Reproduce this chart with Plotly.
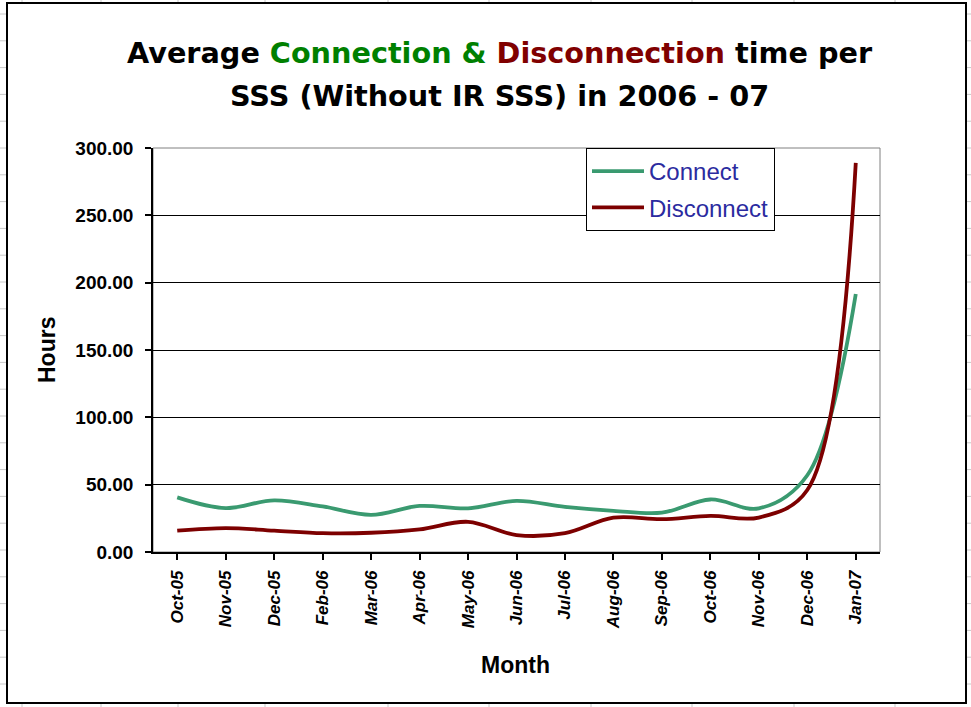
import plotly.graph_objects as go

months = ["Oct-05", "Nov-05", "Dec-05", "Feb-06", "Mar-06", "Apr-06", "May-06",
          "Jun-06", "Jul-06", "Aug-06", "Sep-06", "Oct-06", "Nov-06", "Dec-06", "Jan-07"]
connect = [40.6, 32.6, 38.4, 33.8, 27.6, 34.2, 32.4, 38.0, 33.5, 30.6, 29.2, 39.0, 32.4, 57.0, 191.6]
disconnect = [15.8, 17.8, 15.9, 14.0, 14.3, 16.8, 22.4, 12.6, 14.0, 25.5, 24.4, 26.8, 25.6, 46.0, 289.0]
y_ticks = [0, 50, 100, 150, 200, 250, 300]

W, H = 971, 707
L, R, T, B = 153, 880, 148, 552

def px(x):
    return (x - L) / (R - L)

def py(y):
    return (B - y) / (B - T)

GREEN = "#3a9a70"
RED = "#7d0000"
LEG = "#2b2ba0"

fig = go.Figure()
fig.add_trace(go.Scatter(x=months, y=connect, name="Connect", mode="lines",
                         line=dict(color=GREEN, width=3.8, shape="spline", smoothing=1.0),
                         legendgroup="a"))
fig.add_trace(go.Scatter(x=months, y=disconnect, name="Disconnect", mode="lines",
                         line=dict(color=RED, width=3.8, shape="spline", smoothing=1.0),
                         legendgroup="b"))

shapes = []
# spreadsheet grid peeking outside the chart border
grey = "#c8c8c8"
yy = 14.0
while yy < H:
    shapes.append(dict(type="line", xref="paper", yref="paper", x0=px(0), x1=px(7), y0=py(yy), y1=py(yy),
                       line=dict(color=grey, width=1), layer="below"))
    shapes.append(dict(type="line", xref="paper", yref="paper", x0=px(966), x1=px(971), y0=py(yy), y1=py(yy),
                       line=dict(color=grey, width=1), layer="below"))
    yy += 26.8
for xx in [22, 101, 178, 265, 388, 489, 591, 692, 794, 895]:
    shapes.append(dict(type="line", xref="paper", yref="paper", x0=px(xx), x1=px(xx), y0=py(0), y1=py(3),
                       line=dict(color=grey, width=1), layer="below"))
    shapes.append(dict(type="line", xref="paper", yref="paper", x0=px(xx), x1=px(xx), y0=py(703), y1=py(707),
                       line=dict(color=grey, width=1), layer="below"))
# chart border
shapes.append(dict(type="rect", xref="paper", yref="paper", x0=px(7), x1=px(966), y0=py(703), y1=py(3),
                   line=dict(color="#000000", width=2), fillcolor="rgba(0,0,0,0)", layer="below"))
# plot area border
shapes.append(dict(type="rect", xref="paper", yref="paper", x0=0, x1=1, y0=0, y1=1,
                   line=dict(color="#808080", width=1), fillcolor="rgba(0,0,0,0)", layer="below"))

title_font = "DejaVu Sans, Arial, sans-serif"
annotations = [
    dict(text=("Average <span style='color:#008000'>Connection &amp;</span> "
               "<span style='color:#800000'>Disconnection</span> time per"),
         xref="paper", yref="paper", x=px(500), y=py(53), xanchor="center", yanchor="middle",
         showarrow=False, font=dict(family=title_font, size=28.7, color="#000000", weight="bold")),
    dict(text="SSS (Without IR SSS) in 2006 - 07",
         xref="paper", yref="paper", x=px(499), y=py(96), xanchor="center", yanchor="middle",
         showarrow=False, font=dict(family=title_font, size=28.7, color="#000000", weight="bold")),
    dict(text="Hours", textangle=-90, xref="paper", yref="paper", x=px(47), y=py(350),
         xanchor="center", yanchor="middle", showarrow=False,
         font=dict(family="Liberation Sans, Arial, sans-serif", size=23, color="#000000", weight="bold")),
    dict(text="Month", xref="paper", yref="paper", x=px(515), y=py(665),
         xanchor="center", yanchor="middle", showarrow=False,
         font=dict(family="Liberation Sans, Arial, sans-serif", size=23, color="#000000", weight="bold")),
]

fig.update_layout(
    width=W, height=H,
    margin=dict(l=L, r=W - R, t=T, b=H - B, autoexpand=False),
    paper_bgcolor="#ffffff", plot_bgcolor="#ffffff",
    showlegend=True,
    legend=dict(x=px(586), y=1, xanchor="left", yanchor="top",
                bgcolor="#ffffff", bordercolor="#000000", borderwidth=1,
                font=dict(family="Liberation Sans, Arial, sans-serif", size=24, color=LEG),
                traceorder="grouped", tracegroupgap=2, itemwidth=52),
    shapes=shapes,
    annotations=annotations,
    xaxis=dict(type="category", categoryorder="array", categoryarray=months,
               range=[-0.5, len(months) - 0.5],
               showgrid=False, showline=True, linecolor="#000000", linewidth=1.5,
               ticks="outside", ticklen=6, tickcolor="#000000", tickwidth=1.5,
               tickmode="array", tickvals=months, ticktext=["<i>%s</i>" % m for m in months],
               tickangle=-90, ticklabelstandoff=4,
               tickfont=dict(family="Liberation Sans, Arial, sans-serif", size=17, color="#000000", weight="bold"),
               zeroline=False, fixedrange=True),
    yaxis=dict(range=[0, 300], tickvals=y_ticks, ticktext=["%.2f" % v for v in y_ticks],
               showgrid=True, gridcolor="#000000", gridwidth=1,
               showline=True, linecolor="#000000", linewidth=1.5,
               ticks="outside", ticklen=6, tickcolor="#000000", tickwidth=1.5,
               ticklabelstandoff=8,
               tickfont=dict(family="Liberation Sans, Arial, sans-serif", size=19, color="#000000", weight="bold"),
               zeroline=False, fixedrange=True),
)

fig.write_html("out.html", config={"displayModeBar": False},
               post_script="document.body.style.margin='0';document.body.style.overflow='hidden';")
